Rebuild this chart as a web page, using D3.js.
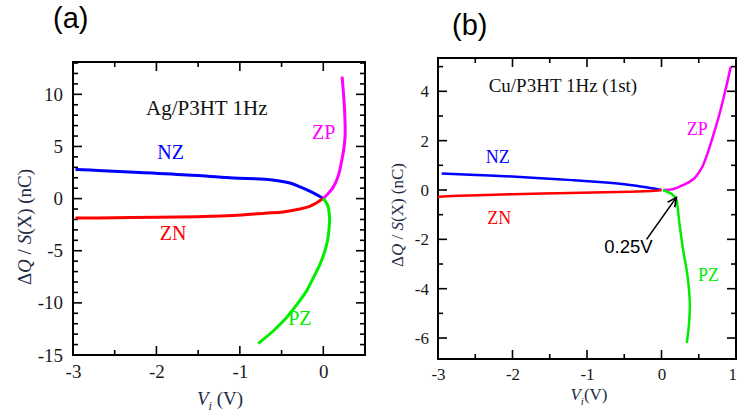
<!DOCTYPE html>
<html>
<head>
<meta charset="utf-8">
<script src="https://cdn.jsdelivr.net/npm/d3@7"></script>
<style>
  body { margin: 0; background: #fff; }
  svg { display: block; }
</style>
</head>
<body>
<div id="chart"></div>
<script>
// Charge vs voltage curves, two panels

// Panel (a) Ag/P3HT 1Hz : [V, dQ/S] pairs
var aNZ = [[-2.97, 2.8], [-2.7, 2.7], [-2.2, 2.5], [-1.5, 2.22], [-1.08, 1.97], [-0.7, 1.86],
  [-0.4, 1.5], [-0.27, 1.1], [-0.12, 0.55], [-0.04, 0.2], [0, 0]];
var aZN = [[-2.97, -1.86], [-2.7, -1.86], [-2.0, -1.78], [-1.5, -1.73], [-1.08, -1.63], [-0.7, -1.4],
  [-0.48, -1.28], [-0.28, -1.0], [-0.19, -0.82], [-0.12, -0.58], [-0.06, -0.3], [0, 0]];
var aZP = [[0, 0], [0.06, 0.5], [0.12, 1.1], [0.18, 2.2], [0.22, 3.6], [0.25, 5.0], [0.262, 6.2],
  [0.26, 7.5], [0.253, 8.8], [0.24, 10.3], [0.225, 11.7]];
var aPZ = [[0, 0], [0.05, -0.6], [0.075, -1.8], [0.07, -2.8], [0.058, -3.7], [0.02, -5.0],
  [-0.04, -6.3], [-0.12, -7.6], [-0.2, -8.85], [-0.32, -10.2], [-0.44, -11.4], [-0.6, -12.7], [-0.78, -13.9]];

// Panel (b) Cu/P3HT 1Hz (1st)
var bNZ = [[-2.95, 0.67], [-2.57, 0.62], [-2.1, 0.56], [-1.68, 0.49], [-1.2, 0.4], [-0.79, 0.31],
  [-0.5, 0.23], [-0.34, 0.17], [-0.15, 0.08], [0, 0]];
var bZN = [[-3, -0.27], [-2.57, -0.22], [-2.0, -0.17], [-1.23, -0.12], [-0.6, -0.08], [-0.34, -0.06],
  [-0.1, -0.03], [0, 0]];
var bZP = [[0.02, 0], [0.15, 0.03], [0.29, 0.2], [0.37, 0.32], [0.44, 0.47], [0.5, 0.7], [0.55, 0.95],
  [0.62, 1.5], [0.69, 2.17], [0.78, 3.1], [0.87, 4.2], [0.93, 5.0]];
var bPZ = [[0.02, 0], [0.15, -0.19], [0.2, -0.39], [0.22, -0.8], [0.24, -1.34], [0.29, -2.42],
  [0.35, -3.5], [0.38, -4.58], [0.37, -5.39], [0.34, -6.2]];

// tick values
var aXTicks = [-3, -2, -1, 0];
var aYTicks = [-15, -10, -5, 0, 5, 10];
var bXTicks = [-3, -2, -1, 0, 1];
var bYTicks = [-6, -4, -2, 0, 2, 4];

var seriesNames = ["NZ", "ZN", "ZP", "PZ"];
var seriesColors = ["#0000ff", "#ff0000", "#ff00ff", "#00ee00"];

var svg = d3.select("#chart").append("svg")
  .attr("width", 737)
  .attr("height", 416);

var serif = "'Liberation Serif', 'Times New Roman', serif";
var sans = "'Liberation Sans', Arial, sans-serif";

function drawPanel(p) {
  var x = d3.scaleLinear().domain(p.xDomain).range([p.left, p.right]);
  var y = d3.scaleLinear().domain(p.yDomain).range([p.bottom, p.top]);
  var g = svg.append("g");

  // tick marks on all four sides, pointing in (minor every 0.5 V / 1 nC)
  var xMinor = d3.range(p.xDomain[0], p.xDomain[1] + 0.001, 0.5);
  var yMinor = d3.range(Math.ceil(p.yDomain[0]), p.yDomain[1], 1);
  var xIsMajor = v => p.xTicks.indexOf(v) >= 0;
  var yIsMajor = v => p.yTicks.indexOf(v) >= 0;

  var ticks = g.append("g").attr("stroke", "#000").attr("stroke-width", 1.6);
  [p.bottom, p.top].forEach(function (edge) {
    var dir = edge === p.bottom ? -1 : 1;
    ticks.selectAll(null)
      .data(xMinor)
      .enter()
      .append("line")
      .attr("x1", d => x(d)).attr("x2", d => x(d))
      .attr("y1", edge)
      .attr("y2", d => edge + dir * (xIsMajor(d) ? 9 : 5));
  });
  [p.left, p.right].forEach(function (edge) {
    var dir = edge === p.left ? 1 : -1;
    ticks.selectAll(null)
      .data(yMinor)
      .enter()
      .append("line")
      .attr("y1", d => y(d)).attr("y2", d => y(d))
      .attr("x1", edge)
      .attr("x2", d => edge + dir * (yIsMajor(d) ? 9 : 5));
  });

  // tick labels through the axes (their own tick lines hidden)
  var xAx = g.append("g")
    .attr("transform", `translate(0,${p.bottom})`)
    .call(d3.axisBottom(x).tickValues(p.xTicks).tickSize(0).tickPadding(p.xPad));
  var yAx = g.append("g")
    .attr("transform", `translate(${p.left},0)`)
    .call(d3.axisLeft(y).tickValues(p.yTicks).tickSize(0).tickPadding(p.yPad));

  [xAx, yAx].forEach(function (a) {
    a.select(".domain").remove();
    a.selectAll("text")
      .attr("font-family", serif)
      .attr("font-size", p.tickFont)
      .attr("fill", "#1a1a1a")
      .text(function (d) { return d < 0 ? "-" + Math.abs(d) : d; });
  });
  // the bottom labels sit a little lower (dy 0.71em from d3)
  xAx.selectAll("text").attr("y", p.xPad);

  // a label sitting on the right edge of the page is pulled inside
  xAx.selectAll("text")
    .filter(d => x(d) > 730)
    .attr("text-anchor", "end")
    .attr("dx", 737 - x(p.xDomain[1]) - 0.5);

  // frame
  g.append("rect")
    .attr("x", p.left).attr("y", p.top)
    .attr("width", p.right - p.left).attr("height", p.bottom - p.top)
    .attr("fill", "none").attr("stroke", "#000").attr("stroke-width", 2);

  // curves
  var line = d3.line()
    .x(d => x(d[0]))
    .y(d => y(d[1]))
    .curve(d3.curveCatmullRom.alpha(0.5));

  p.series.forEach(function (s, i) {
    g.append("path")
      .datum(s)
      .attr("d", line)
      .attr("fill", "none")
      .attr("stroke", seriesColors[i])
      .attr("stroke-width", p.lineWidth)
      .attr("stroke-linejoin", "round");
  });

  // curve labels
  p.labelPos.forEach(function (pos, i) {
    g.append("text")
      .attr("x", x(pos[0])).attr("y", y(pos[1]))
      .attr("font-family", serif)
      .attr("font-size", p.labelFont)
      .attr("fill", seriesColors[i])
      .text(seriesNames[i]);
  });

  // sample text
  g.append("text")
    .attr("x", x(p.titlePos[0])).attr("y", y(p.titlePos[1]))
    .attr("font-family", serif)
    .attr("font-size", p.titleFont)
    .attr("fill", "#111")
    .text(p.title);

  // panel letter
  svg.append("text")
    .attr("x", p.letterPos[0]).attr("y", p.letterPos[1])
    .attr("font-family", sans)
    .attr("font-size", 29)
    .attr("fill", "#000")
    .text(p.letter);

  // y axis title
  var yt = svg.append("text")
    .attr("transform", `translate(${p.yTitlePos[0]},${p.yTitlePos[1]}) rotate(-90)`)
    .attr("text-anchor", "middle")
    .attr("font-family", serif)
    .attr("font-size", p.axisFont)
    .attr("fill", "#222a44");
  yt.append("tspan").text("\u0394");
  yt.append("tspan").attr("font-style", "italic").text("Q");
  yt.append("tspan").text(" / ");
  yt.append("tspan").attr("font-style", "italic").text("S");
  yt.append("tspan").text("(X) (nC)");

  // x axis title
  var xt = svg.append("text")
    .attr("x", p.xTitlePos[0]).attr("y", p.xTitlePos[1])
    .attr("text-anchor", "middle")
    .attr("font-family", serif)
    .attr("font-size", p.axisFont)
    .attr("fill", "#222a44");
  xt.append("tspan").attr("font-style", "italic").text("V");
  xt.append("tspan").attr("font-style", "italic").attr("font-size", p.axisFont * 0.65)
    .attr("dy", 5).text("i");
  xt.append("tspan").attr("dy", -5).text(p.xUnit);

  return { x: x, y: y, g: g };
}

drawPanel({
  left: 73, right: 365, top: 62, bottom: 355,
  xDomain: [-3, 0.5], yDomain: [-15, 13.1],
  xTicks: aXTicks, yTicks: aYTicks,
  xPad: 9.5, yPad: 10, tickFont: 19,
  series: [aNZ, aZN, aZP, aPZ], lineWidth: 3,
  labelPos: [[-1.99, 3.8], [-1.96, -3.97], [-0.135, 5.72], [-0.42, -12.12]],
  labelFont: 20,
  title: "Ag/P3HT 1Hz", titlePos: [-2.125, 8.02], titleFont: 21,
  letter: "(a)", letterPos: [53, 28],
  yTitlePos: [31, 227], xTitlePos: [220, 405], axisFont: 19, xUnit: " (V)"
});

var pb = drawPanel({
  left: 438, right: 736, top: 58, bottom: 359,
  xDomain: [-3, 1], yDomain: [-6.85, 5.35],
  xTicks: bXTicks, yTicks: bYTicks,
  xPad: 9, yPad: 9, tickFont: 17,
  series: [bNZ, bZN, bZP, bPZ], lineWidth: 2.5,
  labelPos: [[-2.36, 1.09], [-2.34, -1.38], [0.34, 2.23], [0.49, -3.69]],
  labelFont: 18,
  title: "Cu/P3HT 1Hz (1st)", titlePos: [-2.32, 3.97], titleFont: 19,
  letter: "(b)", letterPos: [452, 35],
  yTitlePos: [403, 215], xTitlePos: [589, 400], axisFont: 17, xUnit: "(V)"
});

// arrow pointing at the 0.25V crossing
var arrowTail = [-0.2, -2.0];
var arrowHead = [0.2, -0.3];
var ax1 = pb.x(arrowTail[0]), ay1 = pb.y(arrowTail[1]);
var ax2 = pb.x(arrowHead[0]), ay2 = pb.y(arrowHead[1]);
pb.g.append("line")
  .attr("x1", ax1).attr("y1", ay1).attr("x2", ax2).attr("y2", ay2)
  .attr("stroke", "#000").attr("stroke-width", 1.6);
var ang = Math.atan2(ay2 - ay1, ax2 - ax1);
var hl = 10;
pb.g.append("path")
  .attr("d", `M${ax2 - hl * Math.cos(ang - 0.45)},${ay2 - hl * Math.sin(ang - 0.45)}
    L${ax2},${ay2} L${ax2 - hl * Math.cos(ang + 0.45)},${ay2 - hl * Math.sin(ang + 0.45)}`)
  .attr("fill", "none").attr("stroke", "#000").attr("stroke-width", 1.6);

pb.g.append("text")
  .attr("x", pb.x(-0.443)).attr("y", pb.y(-2.55))
  .attr("text-anchor", "middle")
  .attr("font-family", sans)
  .attr("font-size", 18.5)
  .attr("fill", "#000")
  .text("0.25V");
</script>
</body>
</html>
